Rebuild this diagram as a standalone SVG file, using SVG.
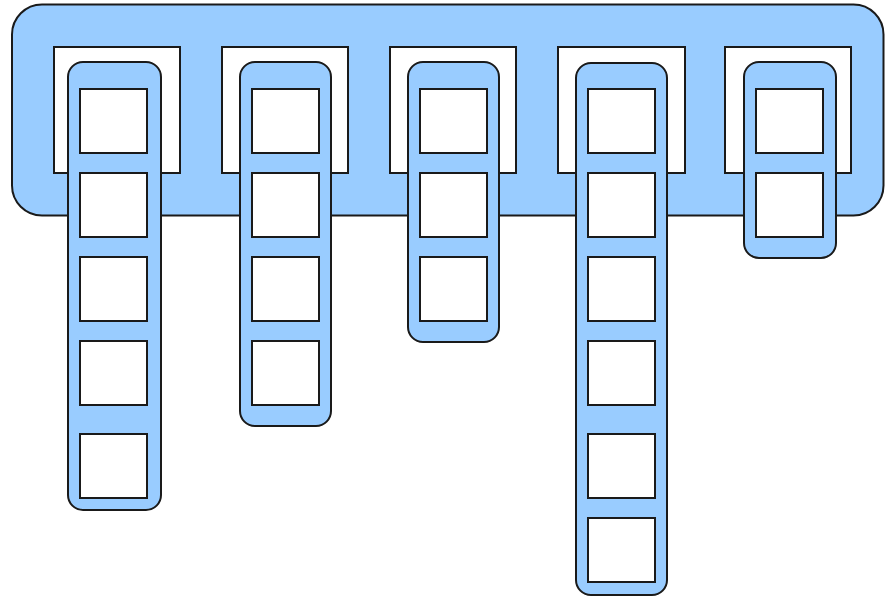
<svg xmlns="http://www.w3.org/2000/svg" width="885" height="597" viewBox="0 0 885 597">
<style>
.blue{fill:#99ccff;stroke:#1a1a1a;stroke-width:2}
.slot{fill:#ffffff;stroke:#1a1a1a;stroke-width:2}
.cell{fill:#ffffff;stroke:#1a1a1a;stroke-width:2}
</style>
<rect width="885" height="597" fill="#ffffff"/>
<g id="container">
<rect class="blue" x="12" y="4.5" width="871.5" height="211" rx="30" ry="30"/>
<rect class="slot" x="54" y="47" width="126" height="126"/>
<rect class="slot" x="222" y="47" width="126" height="126"/>
<rect class="slot" x="390" y="47" width="126" height="126"/>
<rect class="slot" x="558" y="47" width="127" height="126"/>
<rect class="slot" x="725" y="47" width="126" height="126"/>
</g>
<g id="connectors"></g>
<g id="column1">
<rect class="blue" x="68" y="62" width="93" height="448" rx="15" ry="15"/>
<rect class="cell" x="80" y="89" width="67" height="64"/>
<rect class="cell" x="80" y="173" width="67" height="64"/>
<rect class="cell" x="80" y="257" width="67" height="64"/>
<rect class="cell" x="80" y="341" width="67" height="64"/>
<rect class="cell" x="80" y="434" width="67" height="64"/>
</g>
<g id="column2">
<rect class="blue" x="240" y="62" width="91" height="364" rx="15" ry="15"/>
<rect class="cell" x="252" y="89" width="67" height="64"/>
<rect class="cell" x="252" y="173" width="67" height="64"/>
<rect class="cell" x="252" y="257" width="67" height="64"/>
<rect class="cell" x="252" y="341" width="67" height="64"/>
</g>
<g id="column3">
<rect class="blue" x="408" y="62" width="91" height="280" rx="15" ry="15"/>
<rect class="cell" x="420" y="89" width="67" height="64"/>
<rect class="cell" x="420" y="173" width="67" height="64"/>
<rect class="cell" x="420" y="257" width="67" height="64"/>
</g>
<g id="column4">
<rect class="blue" x="576" y="63" width="91" height="532" rx="15" ry="15"/>
<rect class="cell" x="588" y="89" width="67" height="64"/>
<rect class="cell" x="588" y="173" width="67" height="64"/>
<rect class="cell" x="588" y="257" width="67" height="64"/>
<rect class="cell" x="588" y="341" width="67" height="64"/>
<rect class="cell" x="588" y="434" width="67" height="64"/>
<rect class="cell" x="588" y="518" width="67" height="64"/>
</g>
<g id="column5">
<rect class="blue" x="744" y="62" width="92" height="196" rx="15" ry="15"/>
<rect class="cell" x="756" y="89" width="67" height="64"/>
<rect class="cell" x="756" y="173" width="67" height="64"/>
</g>
</svg>
